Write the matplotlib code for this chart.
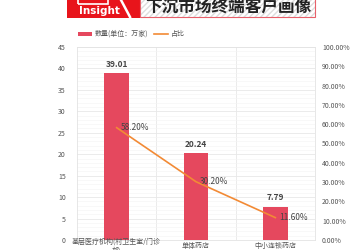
import matplotlib
matplotlib.use("Agg")
import matplotlib.pyplot as plt
from matplotlib.patches import Rectangle
from matplotlib.lines import Line2D
import matplotlib.transforms as mtransforms
from matplotlib.ticker import MultipleLocator, FuncFormatter

plt.rcParams['font.family'] = ['Noto Sans CJK SC', 'DejaVu Sans']

categories = ["基层医疗机构(村卫生室/门诊\n部)", "单体药店", "中小连锁药店"]
counts = [39.01, 20.24, 7.79]
shares = [58.20, 30.20, 11.60]
title = "下沉市场终端客户画像"
legend_labels = ["数量(单位：万家)", "占比"]

bar_color = "#E5485E"
line_color = "#F28A35"
text_color = "#555555"
grid_color = "#E8E8E8"

fig = plt.figure(figsize=(3.5, 2.5), dpi=100)
fig.patch.set_facecolor("white")

W, H = 350, 250
def fx(px): return px / W
def fy(py): return 1 - py / H

# Header banner
fig.patches.append(Rectangle((fx(67), fy(18)), fx(140) - fx(67), fy(0) - fy(18),
                             transform=fig.transFigure, facecolor="#E8141B", edgecolor="none"))
fig.text(fx(99), fy(11), "Insight", color="white", fontsize=7.5, fontweight="bold",
         ha="center", va="center", family=["DejaVu Sans"])
fig.patches.append(Rectangle((fx(78), fy(4)), fx(30), fy(0) - fy(4) + 0.02,
                             transform=fig.transFigure, facecolor="none", edgecolor="white", lw=1.2))
fig.lines.append(Line2D([fx(121), fx(130)], [fy(0), fy(17)], transform=fig.transFigure,
                        color="white", lw=1.8))
fig.patches.append(Rectangle((fx(140), fy(17)), fx(315) - fx(140), fy(0) - fy(17) + 0.01,
                             transform=fig.transFigure, facecolor="white", edgecolor="#DDDDDD",
                             hatch="//////", lw=0))
fig.patches.append(Rectangle((fx(140), fy(17)), fx(315) - fx(140), fy(0) - fy(17) + 0.01,
                             transform=fig.transFigure, facecolor="none", edgecolor="#E8606A", lw=0.8))
fig.text(fx(228), fy(7), title, color="#222222", fontsize=12, fontweight="bold",
         ha="center", va="center")

ax = fig.add_axes([fx(77), fy(240), fx(315) - fx(77), fy(47) - fy(240)])
x = list(range(len(categories)))
ax.bar(x, counts, width=0.315, color=bar_color, zorder=3)
ax.set_xlim(-0.5, len(categories) - 0.5)
ax.set_ylim(0, 45)
ax.yaxis.set_major_locator(MultipleLocator(5))
ax.yaxis.set_minor_locator(MultipleLocator(1))
ax.set_xticks([])
ax.set_xticks([0.5, 1.5], minor=True)
ax.grid(which="major", axis="y", color=grid_color, lw=0.6, zorder=0)
ax.grid(which="minor", axis="y", color="#F4F4F4", lw=0.4, zorder=0)
ax.grid(which="minor", axis="x", color=grid_color, lw=0.6, zorder=0)
for s in ax.spines.values():
    s.set_color("#E3E3E3")
    s.set_linewidth(0.6)
ax.tick_params(axis="y", which="both", length=0, labelsize=5, labelcolor=text_color, pad=8)
ax.tick_params(axis="x", which="both", length=0)

for xi, v in zip(x, counts):
    ax.annotate(f"{v:.2f}", (xi, v), xytext=(0, 3), textcoords="offset points",
                ha="center", va="bottom", fontsize=6, fontweight="bold", color="#444444")

trans = mtransforms.blended_transform_factory(ax.transData, ax.transAxes)
off = mtransforms.offset_copy(trans, fig=fig, y=-6, units="dots")
for xi, lab in zip(x, categories):
    ax.text(xi, 0, lab, transform=off, ha="center", va="center", fontsize=5,
            color=text_color, linespacing=1.3)

ax2 = ax.twinx()
ax2.plot(x, shares, color=line_color, lw=1.2, zorder=4)
ax2.set_ylim(0, 100)
ax2.yaxis.set_major_locator(MultipleLocator(10))
ax2.yaxis.set_major_formatter(FuncFormatter(lambda v, p: f"{v:.2f}%"))
ax2.tick_params(axis="y", length=0, labelsize=5, labelcolor=text_color, pad=5)
for s in ax2.spines.values():
    s.set_visible(False)
for xi, v in zip(x, shares):
    ax2.annotate(f"{v:.2f}%", (xi, v), xytext=(3, 0), textcoords="offset points",
                 ha="left", va="center", fontsize=6, color="#444444")

handles = [Rectangle((0, 0), 1, 1, facecolor=bar_color),
           Line2D([0], [0], color=line_color, lw=1.2)]
fig.legend(handles, legend_labels, loc="center left", bbox_to_anchor=(fx(72), fy(34)),
           ncol=2, frameon=False, fontsize=5, handlelength=2.0, handleheight=0.5,
           handletextpad=0.4, columnspacing=0.8, labelcolor=text_color)

fig.savefig("out.png", dpi=100)
